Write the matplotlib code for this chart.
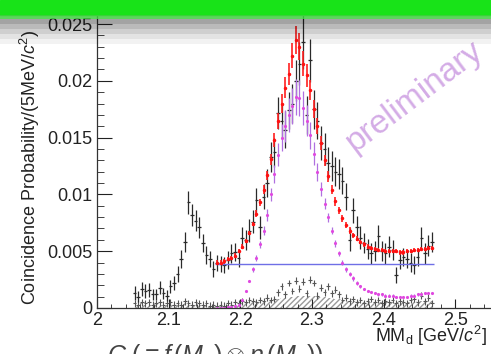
import numpy as np
import matplotlib.pyplot as plt
from matplotlib.patches import Rectangle
from matplotlib.ticker import MultipleLocator, FuncFormatter

plt.rcParams['font.family'] = 'Liberation Sans'
plt.rcParams['mathtext.fontset'] = 'custom'
plt.rcParams['mathtext.rm'] = 'Liberation Sans'
plt.rcParams['mathtext.it'] = 'Liberation Sans:italic'

bin_width = 0.005
# bin centres of missing mass [GeV/c^2]
mm_data = np.round(np.arange(2.0525, 2.47, bin_width), 4)   # 84 bins
mm_fit = np.round(np.arange(2.1675, 2.47, bin_width), 4)    # 61 bins (fit range)

# coincidence probability per 5 MeV
coin_prob = [0.0013, 0.0010, 0.0017, 0.0015, 0.0016, 0.0012, 0.0012, 0.0018, 0.0013, 0.0011,
             0.0019, 0.0022, 0.0030, 0.0043, 0.0058, 0.0093, 0.0082, 0.0077, 0.0071, 0.0057,
             0.0047, 0.0043, 0.0034, 0.0040, 0.0039, 0.0038, 0.0042, 0.0048, 0.0049, 0.0044,
             0.0062, 0.0060, 0.0068, 0.0076, 0.0095, 0.0071, 0.0098, 0.0110, 0.0133, 0.0137,
             0.0172, 0.0165, 0.0157, 0.0174, 0.0180, 0.0200, 0.0215, 0.0234, 0.0170, 0.0218,
             0.0175, 0.0165, 0.0145, 0.0140, 0.0128, 0.0125, 0.0120, 0.0118, 0.0112, 0.0098,
             0.0060, 0.0086, 0.0071, 0.0062, 0.0057, 0.0052, 0.0048, 0.0050, 0.0063, 0.0050,
             0.0048, 0.0054, 0.0051, 0.0029, 0.0042, 0.0045, 0.0043, 0.0040, 0.0038, 0.0045,
             0.0062, 0.0048, 0.0055, 0.0058]
coin_err = [0.0006, 0.0005, 0.0006, 0.0006, 0.0006, 0.0005, 0.0005, 0.0006, 0.0005, 0.0005,
            0.0006, 0.0006, 0.0007, 0.0008, 0.0009, 0.0010, 0.0010, 0.0009, 0.0009, 0.0008,
            0.0008, 0.0007, 0.0007, 0.0007, 0.0007, 0.0007, 0.0008, 0.0008, 0.0008, 0.0008,
            0.0009, 0.0009, 0.0010, 0.0010, 0.0011, 0.0010, 0.0011, 0.0012, 0.0013, 0.0013,
            0.0014, 0.0015, 0.0016, 0.0016, 0.0017, 0.0018, 0.0019, 0.0024, 0.0017, 0.0019,
            0.0017, 0.0016, 0.0015, 0.0014, 0.0014, 0.0013, 0.0013, 0.0013, 0.0012, 0.0012,
            0.0010, 0.0011, 0.0010, 0.0010, 0.0009, 0.0009, 0.0009, 0.0009, 0.0010, 0.0009,
            0.0009, 0.0009, 0.0009, 0.0007, 0.0008, 0.0008, 0.0008, 0.0008, 0.0008, 0.0008,
            0.0009, 0.0009, 0.0009, 0.0009]

# accidental coincidences
accid_prob = [0.0004, 0.0003, 0.0005, 0.0004, 0.0005, 0.0003, 0.0004, 0.0005, 0.0003, 0.0004,
              0.0005, 0.0003, 0.0004, 0.0003, 0.0006, 0.0004, 0.0003, 0.0005, 0.0004, 0.0003,
              0.0004, 0.0002, 0.0003, 0.0002, 0.0003, 0.0002, 0.0004, 0.0003, 0.0005, 0.0004,
              0.0006, 0.0005, 0.0007, 0.0006, 0.0005, 0.0007, 0.0006, 0.0009, 0.0007, 0.0008,
              0.0014, 0.0019, 0.0012, 0.0022, 0.0015, 0.0024, 0.0017, 0.0023, 0.0013, 0.0025,
              0.0022, 0.0011, 0.0018, 0.0014, 0.0019, 0.0013, 0.0016, 0.0012, 0.0007, 0.0009,
              0.0006, 0.0008, 0.0005, 0.0007, 0.0004, 0.0006, 0.0008, 0.0005, 0.0007, 0.0004,
              0.0006, 0.0005, 0.0007, 0.0004, 0.0006, 0.0005, 0.0004, 0.0007, 0.0008, 0.0005,
              0.0011, 0.0006, 0.0009, 0.0004]
accid_err = 0.0003
accid_est = [0.0003, 0.0003, 0.0004, 0.0003, 0.0003, 0.0003, 0.0004, 0.0003, 0.0003, 0.0003,
             0.0003, 0.0003, 0.0003, 0.0003, 0.0004, 0.0003, 0.0003, 0.0003, 0.0003, 0.0003,
             0.0003, 0.0002, 0.0002, 0.0002, 0.0002, 0.0002, 0.0003, 0.0003, 0.0003, 0.0003,
             0.0004, 0.0004, 0.0004, 0.0005, 0.0005, 0.0005, 0.0006, 0.0006, 0.0007, 0.0007,
             0.0008, 0.0009, 0.0009, 0.0010, 0.0010, 0.0011, 0.0011, 0.0011, 0.0011, 0.0011,
             0.0011, 0.0010, 0.0010, 0.0010, 0.0009, 0.0009, 0.0008, 0.0008, 0.0007, 0.0007,
             0.0006, 0.0006, 0.0006, 0.0005, 0.0005, 0.0005, 0.0005, 0.0005, 0.0005, 0.0005,
             0.0005, 0.0005, 0.0005, 0.0005, 0.0005, 0.0005, 0.0005, 0.0005, 0.0005, 0.0006,
             0.0006, 0.0006, 0.0006, 0.0006]

# fit: total, signal part and flat background
fit_total = [0.0040, 0.0040, 0.0041, 0.0043, 0.0044, 0.0046, 0.0050, 0.0054, 0.0059, 0.0066,
             0.0074, 0.0083, 0.0093, 0.0104, 0.0117, 0.0131, 0.0148, 0.0165, 0.0180, 0.0194,
             0.0206, 0.0222, 0.0236, 0.0230, 0.0215, 0.0205, 0.0192, 0.0175, 0.0160, 0.0145,
             0.0130, 0.0116, 0.0104, 0.0094, 0.0086, 0.0079, 0.0073, 0.0068, 0.0064, 0.0061,
             0.0058, 0.0056, 0.0054, 0.0053, 0.0052, 0.0051, 0.0051, 0.0050, 0.0050, 0.0050,
             0.0050, 0.0049, 0.0049, 0.0050, 0.0050, 0.0051, 0.0051, 0.0052, 0.0052, 0.0053,
             0.0053]
fit_err = [0.0002, 0.0002, 0.0002, 0.0002, 0.0002, 0.0002, 0.0002, 0.0002, 0.0002, 0.0002,
           0.0002, 0.0003, 0.0003, 0.0004, 0.0004, 0.0005, 0.0006, 0.0007, 0.0008, 0.0009,
           0.0010, 0.0011, 0.0012, 0.0012, 0.0011, 0.0010, 0.0009, 0.0008, 0.0007, 0.0006,
           0.0005, 0.0005, 0.0004, 0.0004, 0.0003, 0.0003, 0.0003, 0.0003, 0.0002, 0.0002,
           0.0002, 0.0002, 0.0002, 0.0002, 0.0002, 0.0002, 0.0002, 0.0002, 0.0002, 0.0002,
           0.0002, 0.0002, 0.0002, 0.0002, 0.0002, 0.0002, 0.0002, 0.0002, 0.0002, 0.0002,
           0.0002]
fit_signal = [0.0000, 0.0000, 0.0000, 0.0001, 0.0001, 0.0002, 0.0003, 0.0007, 0.0015, 0.0024,
              0.0034, 0.0044, 0.0056, 0.0068, 0.0082, 0.0100, 0.0118, 0.0135, 0.0150, 0.0160,
              0.0170, 0.0178, 0.0186, 0.0185, 0.0176, 0.0165, 0.0152, 0.0136, 0.0120, 0.0105,
              0.0092, 0.0080, 0.0068, 0.0057, 0.0048, 0.0040, 0.0034, 0.0030, 0.0026, 0.0022,
              0.0019, 0.0017, 0.0015, 0.0014, 0.0013, 0.0012, 0.0012, 0.0011, 0.0011, 0.0011,
              0.0010, 0.0010, 0.0010, 0.0010, 0.0011, 0.0011, 0.0012, 0.0012, 0.0013, 0.0013,
              0.0013]
signal_err = [0.0001, 0.0001, 0.0001, 0.0001, 0.0001, 0.0001, 0.0001, 0.0001, 0.0001, 0.0001,
              0.0002, 0.0003, 0.0003, 0.0004, 0.0005, 0.0006, 0.0008, 0.0010, 0.0012, 0.0014,
              0.0015, 0.0016, 0.0016, 0.0016, 0.0015, 0.0014, 0.0012, 0.0010, 0.0008, 0.0006,
              0.0005, 0.0004, 0.0003, 0.0003, 0.0002, 0.0002, 0.0002, 0.0002, 0.0002, 0.0002,
              0.0001, 0.0001, 0.0001, 0.0001, 0.0001, 0.0001, 0.0001, 0.0001, 0.0001, 0.0001,
              0.0001, 0.0001, 0.0001, 0.0001, 0.0001, 0.0001, 0.0001, 0.0001, 0.0001, 0.0001,
              0.0001]
bkg_level = 0.0039

W, H = 491, 354
fig = plt.figure(figsize=(W / 100, H / 100), dpi=100)
ax = fig.add_axes([97 / W, 46 / H, 430 / W, 301 / H])

# accidental histogram (hatched) and its points
ax.fill_between(mm_data, accid_est, step='mid', facecolor='none', edgecolor='#9a9a9a',
                hatch='//////', linewidth=0)
ax.errorbar(mm_data, accid_prob, xerr=bin_width / 2, yerr=accid_err, fmt='none',
            ecolor='#555555', elinewidth=0.8)

# measured coincidence probability
ax.errorbar(mm_data, coin_prob, xerr=bin_width / 2, yerr=coin_err, fmt='none',
            ecolor='#2a2a2a', elinewidth=0.9)

# flat background
ax.hlines(bkg_level, mm_fit[0] - bin_width / 2, mm_fit[-1] + bin_width / 2,
          color='#6f6fe6', lw=1.0)

# signal part
ax.errorbar(mm_fit, fit_signal, yerr=signal_err, fmt='.', ms=2.5, color='#e048e0',
            ecolor='#b070e0', elinewidth=0.9)

# total fit
ax.errorbar(mm_fit, fit_total, yerr=fit_err, fmt='.', ms=3, color='#ff1010',
            ecolor='#ff2020', elinewidth=1.2)

ax.set_xlim(2.0, 2.6)
ax.set_ylim(0, 0.0265)
ax.xaxis.set_major_locator(MultipleLocator(0.1))
ax.xaxis.set_minor_locator(MultipleLocator(0.02))
ax.yaxis.set_major_locator(MultipleLocator(0.005))
ax.yaxis.set_minor_locator(MultipleLocator(0.001))
fmt = FuncFormatter(lambda v, p: '%g' % round(v, 4))
ax.xaxis.set_major_formatter(fmt)
ax.yaxis.set_major_formatter(fmt)
ax.tick_params(which='both', direction='in', top=False, right=False, labelsize=13,
               colors='#222222')
ax.tick_params(axis='x', which='major', length=6.5, pad=3)
ax.tick_params(axis='x', which='minor', length=3.2)
ax.tick_params(axis='y', which='major', length=11, pad=3)
ax.tick_params(axis='y', which='minor', length=5)
for s in ax.spines.values():
    s.set_color('#333333')
    s.set_linewidth(0.9)

fig.text(30 / W, 49 / H, 'Coincidence Probability/(5MeV/$c^2$)', rotation=90,
         ha='center', va='bottom', fontsize=13, color='#222222')
fig.text(375 / W, (H - 342) / H, r'MM$_{\rm d}$ [GeV/$c^2$]', ha='left', va='baseline',
         fontsize=13, color='#222222')
fig.text(107 / W, (H - 342) / H, r'$C\ (\equiv f\,(M_d)\otimes\eta\,(M_d))$',
         ha='left', va='top', fontsize=18, color='#444444')

fig.text(355 / W, (H - 152) / H, 'preliminary', rotation=37, rotation_mode='anchor',
         ha='left', va='baseline', fontsize=24, color='#d4ace6')

# title bar of the slide
fig.add_artist(Rectangle((0, 1 - 15 / H), 1, 15 / H, transform=fig.transFigure,
                         color='#18e318', zorder=20))
fig.add_artist(Rectangle((0, 1 - 19 / H), 1, 4 / H, transform=fig.transFigure,
                         color='#3fcf3f', alpha=0.85, zorder=20, lw=0))
for i, a in enumerate([0.36, 0.27, 0.19, 0.11, 0.05]):
    fig.add_artist(Rectangle((0, 1 - (24 + 5 * i) / H), 1, 5 / H, transform=fig.transFigure,
                             color='black', alpha=a, zorder=20, lw=0))

fig.savefig('out.png', dpi=100)
